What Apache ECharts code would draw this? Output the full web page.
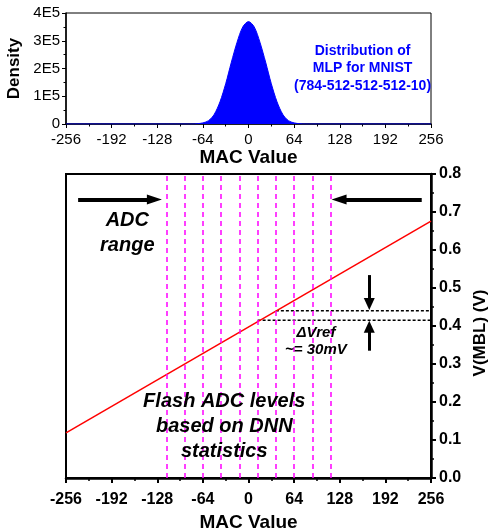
<!DOCTYPE html>
<html>
<head>
<meta charset="utf-8">
<script src="https://cdn.jsdelivr.net/npm/echarts@6/dist/echarts.min.js"></script>
<style>
  html, body { margin: 0; padding: 0; background: #fff; }
  #chart { width: 489px; height: 531px; }
</style>
</head>
<body>
<div id="chart"></div>
<script>
// MAC value distribution (top panel)
var macPoints = [-256, -96, -88, -80, -72, -64, -56, -48, -40, -32, -24, -16, -8, 0, 8, 16, 24, 32, 40, 48, 56, 64, 72, 80, 88, 96, 256];
var densityValues = [0, 0, 0, 0, 1000, 4000, 12000, 35000, 80000, 145000, 223000, 295000, 350000, 369000, 350000, 295000, 223000, 145000, 80000, 35000, 12000, 4000, 1000, 0, 0, 0, 0];
var densityTickLabels = ["0", "1E5", "2E5", "3E5", "4E5"];

// V(MBL) transfer line (bottom panel)
var lineMac = [-256, 256];
var lineVolt = [0.119, 0.676];
// flash ADC reference levels
var adcLevels = [-115.2, -89.6, -64, -38.4, -12.8, 12.8, 38.4, 64, 89.6, 115.2];
var vrefStart = [12.8, 38.4];
var vrefVolt = [0.415, 0.44];

var FONT = "'Liberation Sans', Arial, sans-serif";

var myChart = echarts.init(document.getElementById("chart"));

function pts(xs, ys) {
  return xs.map(function (x, i) { return [x, ys[i]]; });
}

var textBase = {
  show: true,
  position: "inside",
  align: "center",
  verticalAlign: "middle",
  fontFamily: FONT,
  fontWeight: "bold",
  fontStyle: "italic",
  color: "#000",
};

myChart.setOption({
  animation: false,
  grid: [
    { left: 66, top: 13, width: 365, height: 111, outerBoundsMode: "none", show: true, borderColor: "#000", borderWidth: 1, backgroundColor: "transparent" },
    { left: 66, top: 174, width: 365, height: 304, outerBoundsMode: "none", show: true, borderColor: "#000", borderWidth: 2, backgroundColor: "transparent" },
  ],
  xAxis: [
    {
      gridIndex: 0,
      type: "value",
      min: -256,
      max: 256,
      interval: 64,
      name: "MAC Value",
      nameLocation: "middle",
      nameGap: 23,
      nameTextStyle: { fontFamily: FONT, fontWeight: "bold", fontSize: 19, color: "#000" },
      axisLine: { show: true, onZero: false, lineStyle: { color: "#000", width: 1.5 } },
      axisTick: { show: true, inside: false, length: 4, lineStyle: { color: "#000", width: 1 } },
      minorTick: { show: true, splitNumber: 2, length: 2.5, lineStyle: { color: "#000", width: 1 } },
      axisLabel: { fontFamily: FONT, fontSize: 15, color: "#000", margin: 8, showMinLabel: true, showMaxLabel: true },
      splitLine: { show: false },
    },
    {
      gridIndex: 1,
      type: "value",
      min: -256,
      max: 256,
      interval: 64,
      name: "MAC Value",
      nameLocation: "middle",
      nameGap: 33,
      nameTextStyle: { fontFamily: FONT, fontWeight: "bold", fontSize: 19, color: "#000" },
      axisLine: { show: true, onZero: false, lineStyle: { color: "#000", width: 2.5 } },
      axisTick: { show: true, inside: false, length: 5, lineStyle: { color: "#000", width: 2 } },
      minorTick: { show: true, splitNumber: 2, length: 3, lineStyle: { color: "#000", width: 1.5 } },
      axisLabel: { fontFamily: FONT, fontWeight: "bold", fontSize: 16, color: "#000", margin: 14, showMinLabel: true, showMaxLabel: true },
      splitLine: { show: false },
    },
  ],
  yAxis: [
    {
      gridIndex: 0,
      type: "value",
      min: 0,
      max: 400000,
      interval: 100000,
      name: "Density",
      nameLocation: "middle",
      nameGap: 41,
      nameRotate: 90,
      nameTextStyle: { fontFamily: FONT, fontWeight: "bold", fontSize: 17, color: "#000" },
      axisLine: { show: true, onZero: false, lineStyle: { color: "#000", width: 1.5 } },
      axisTick: { show: true, inside: false, length: 4, lineStyle: { color: "#000", width: 1 } },
      minorTick: { show: true, splitNumber: 2, length: 2.5, lineStyle: { color: "#000", width: 1 } },
      axisLabel: {
        fontFamily: FONT, fontSize: 15, color: "#000", margin: 6, showMinLabel: true, showMaxLabel: true,
        formatter: function (v, i) { return densityTickLabels[i]; },
      },
      splitLine: { show: false },
    },
    {
      gridIndex: 1,
      type: "value",
      position: "right",
      min: 0,
      max: 0.8,
      interval: 0.1,
      name: "V(MBL) (V)",
      nameLocation: "middle",
      nameGap: 40,
      nameRotate: 90,
      nameTextStyle: { fontFamily: FONT, fontWeight: "bold", fontSize: 17, color: "#000", padding: [0, 14, 0, 0] },
      axisLine: { show: true, onZero: false, lineStyle: { color: "#000", width: 2.5 } },
      axisTick: { show: true, inside: false, length: 5, lineStyle: { color: "#000", width: 2 } },
      minorTick: { show: true, splitNumber: 2, length: 3, lineStyle: { color: "#000", width: 1.5 } },
      axisLabel: {
        fontFamily: FONT, fontWeight: "bold", fontSize: 16, color: "#000", margin: 8, showMinLabel: true, showMaxLabel: true,
        formatter: function (v) { return v.toFixed(1); },
      },
      splitLine: { show: false },
    },
  ],
  series: [
    {
      name: "density",
      type: "line",
      xAxisIndex: 0,
      yAxisIndex: 0,
      data: pts(macPoints, densityValues),
      smooth: 0.3,
      symbol: "none",
      lineStyle: { color: "#0000ff", width: 1 },
      areaStyle: { color: "#0000ff", opacity: 1 },
      markPoint: {
        symbol: "circle",
        symbolSize: 0,
        silent: true,
        data: [
          {
            coord: [160, 200000],
            label: Object.assign({}, textBase, {
              fontStyle: "normal", color: "#0000ff", fontSize: 14, lineHeight: 17.7,
              formatter: "Distribution of\nMLP for MNIST\n(784-512-512-512-10)",
            }),
          },
        ],
      },
    },
    {
      name: "vmbl",
      type: "line",
      xAxisIndex: 1,
      yAxisIndex: 1,
      data: pts(lineMac, lineVolt),
      symbol: "none",
      z: 4,
      lineStyle: { color: "#ff0000", width: 1.5 },
      markLine: {
        silent: true,
        symbol: ["none", "none"],
        label: { show: false },
        lineStyle: { color: "#ff00ff", width: 1.5, type: [5, 4] },
        data: adcLevels.map(function (v) { return { xAxis: v }; }),
      },
    },
    {
      name: "vref0",
      type: "line",
      xAxisIndex: 1,
      yAxisIndex: 1,
      data: [[vrefStart[0], vrefVolt[0]], [256, vrefVolt[0]]],
      symbol: "none",
      lineStyle: { color: "#000", width: 1.5, type: [3, 2] },
    },
    {
      name: "vref1",
      type: "line",
      xAxisIndex: 1,
      yAxisIndex: 1,
      data: [[vrefStart[1], vrefVolt[1]], [256, vrefVolt[1]]],
      symbol: "none",
      lineStyle: { color: "#000", width: 1.5, type: [3, 2] },
    },
    {
      name: "notes",
      type: "line",
      xAxisIndex: 1,
      yAxisIndex: 1,
      data: [],
      markLine: {
        silent: true,
        symbol: ["none", "triangle"],
        label: { show: false },
        lineStyle: { color: "#000", width: 4, type: "solid" },
        data: [
          [{ coord: [-239, 0.733], symbol: "none" }, { coord: [-132, 0.733], symbol: "triangle", symbolSize: [10, 15] }],
          [{ coord: [243, 0.733], symbol: "none" }, { coord: [127, 0.733], symbol: "triangle", symbolSize: [10, 15] }],
          [{ coord: [169.4, 0.534], symbol: "none", lineStyle: { width: 3 } }, { coord: [169.4, 0.458], symbol: "triangle", symbolSize: [11, 12] }],
          [{ coord: [169.4, 0.335], symbol: "none", lineStyle: { width: 3 } }, { coord: [169.4, 0.398], symbol: "triangle", symbolSize: [11, 12] }],
        ],
      },
      markPoint: {
        symbol: "circle",
        symbolSize: 0,
        silent: true,
        data: [
          { coord: [-170, 0.646], label: Object.assign({}, textBase, { fontSize: 20, lineHeight: 25, formatter: "ADC\nrange" }) },
          { coord: [-34, 0.135], label: Object.assign({}, textBase, { fontSize: 20, lineHeight: 25, formatter: "Flash ADC levels\nbased on DNN\nstatistics" }) },
          { coord: [94.6, 0.36], label: Object.assign({}, textBase, { fontSize: 15, lineHeight: 17.5, formatter: "ΔVref\n~= 30mV" }) },
        ],
      },
    },
  ],
});
</script>
</body>
</html>
